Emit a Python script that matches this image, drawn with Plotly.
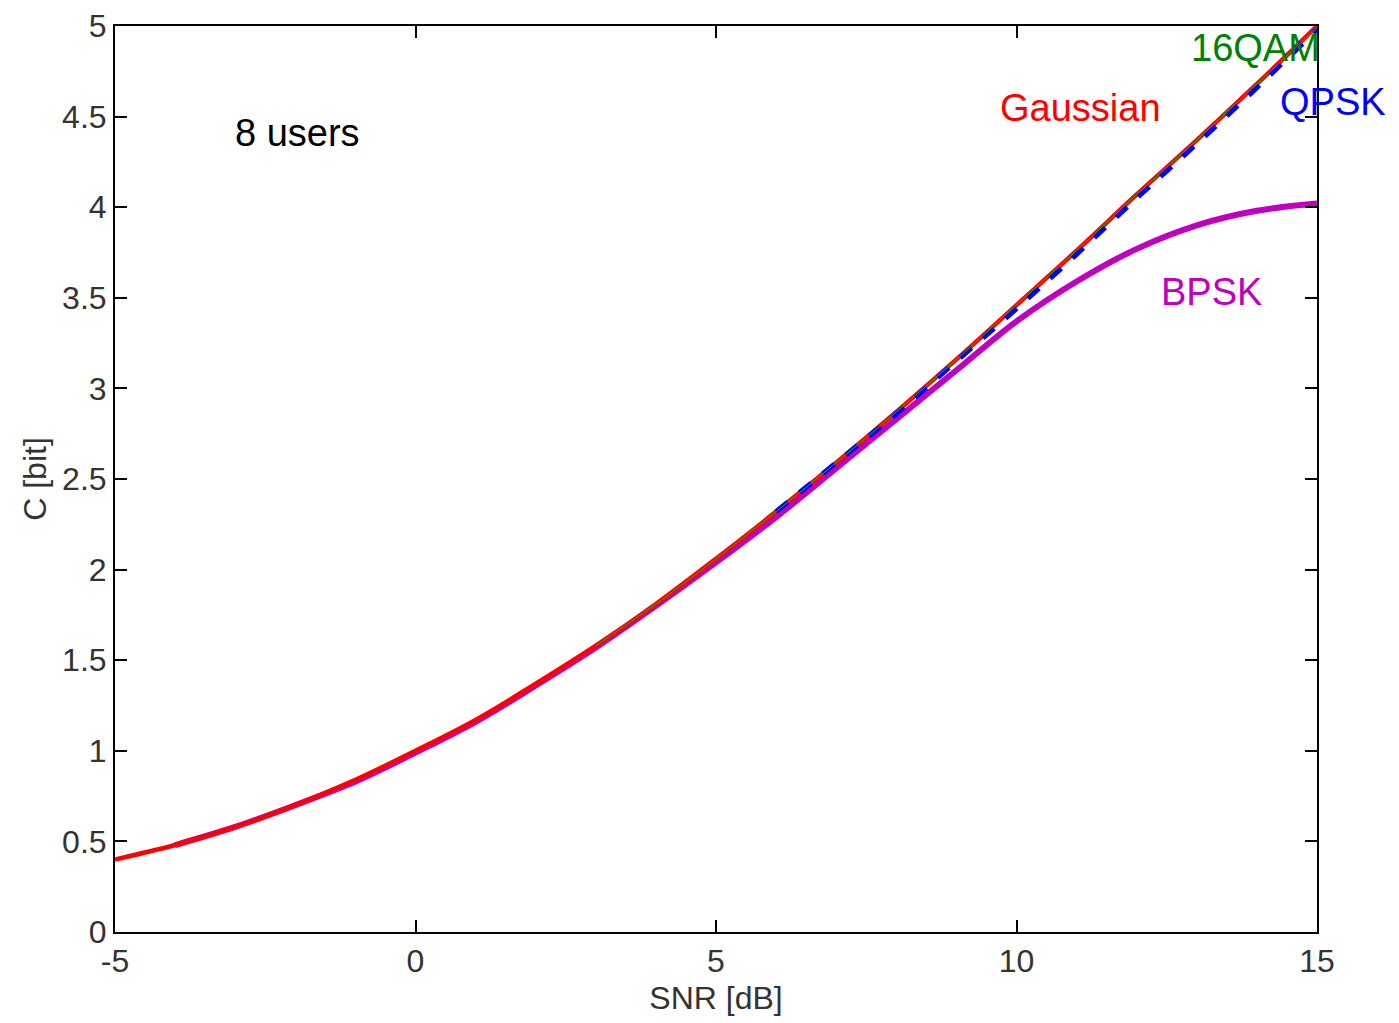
import plotly.graph_objects as go

snr_gauss = [-5, -4, -3, -2, -1, 0, 1, 2, 3, 4, 5, 6, 7, 8, 9, 10, 11, 12, 13, 14, 15]
c_gauss = [0.40, 0.48, 0.58, 0.70, 0.84, 1.00, 1.17, 1.37, 1.58, 1.81, 2.06, 2.32, 2.59, 2.87, 3.16, 3.46, 3.76, 4.07, 4.37, 4.68, 5.00]

snr_bpsk = [-4, -3, -2, -1, 0, 1, 2, 3, 4, 5, 6, 7, 8, 9, 10, 11, 12, 13, 14, 15]
c_bpsk = [0.48, 0.58, 0.70, 0.83, 0.99, 1.16, 1.36, 1.57, 1.80, 2.04, 2.29, 2.56, 2.83, 3.10, 3.37, 3.59, 3.77, 3.90, 3.98, 4.02]

snr_16qam = [3, 4, 5, 6, 7, 8, 9, 10, 11, 12, 13, 14, 15]
c_16qam = [1.58, 1.81, 2.06, 2.32, 2.59, 2.87, 3.16, 3.46, 3.76, 4.07, 4.37, 4.68, 4.99]

snr_qpsk = [6, 7, 8, 9, 10, 11, 12, 13, 14, 15]
c_qpsk = [2.32, 2.59, 2.86, 3.15, 3.44, 3.74, 4.05, 4.35, 4.66, 4.98]

FONT = "Liberation Sans, Arial, sans-serif"

fig = go.Figure()
fig.add_trace(go.Scatter(x=snr_bpsk, y=c_bpsk, mode="lines", line=dict(color="#BF00BF", width=6, shape="spline"), name="BPSK"))
fig.add_trace(go.Scatter(x=snr_gauss, y=c_gauss, mode="lines", line=dict(color="#FF0000", width=4.5, shape="spline"), name="Gaussian"))
fig.add_trace(go.Scatter(x=snr_qpsk, y=c_qpsk, mode="lines", line=dict(color="#0000FF", width=5, dash="dash", shape="spline"), name="QPSK"))
fig.add_trace(go.Scatter(x=snr_16qam, y=c_16qam, mode="lines", line=dict(color="#00C000", width=1, shape="spline"), name="16QAM"))

annos = [
    dict(x=-1.97, y=4.41, text="8 users", color="black"),
    dict(x=11.06, y=4.55, text="Gaussian", color="#FF0000"),
    dict(x=13.97, y=4.88, text="16QAM", color="#008000"),
    dict(x=13.25, y=3.53, text="BPSK", color="#BF00BF"),
]
for a in annos:
    fig.add_annotation(x=a["x"], y=a["y"], text=a["text"], showarrow=False,
                       font=dict(family=FONT, size=38, color=a["color"]),
                       xanchor="center", yanchor="middle")
# QPSK label sits just outside the right edge of the axes
fig.add_annotation(x=1.013, xref="paper", y=4.58, yref="y", text="QPSK", showarrow=False,
                   font=dict(family=FONT, size=38, color="#0000FF"),
                   xanchor="center", yanchor="middle")

axis_common = dict(showline=True, linecolor="black", linewidth=2, mirror="ticks",
                   ticks="inside", ticklen=12, tickwidth=1.5, tickcolor="black",
                   showgrid=False, zeroline=False, ticklabeloverflow="allow", automargin=False,
                   tickfont=dict(family=FONT, size=32, color="#333"))

fig.update_xaxes(range=[-5, 15], tickvals=[-5, 0, 5, 10, 15], ticktext=["-5", "0", "5", "10", "15"],
                 title=dict(text="SNR [dB]", font=dict(family=FONT, size=32, color="#333"), standoff=8),
                 **axis_common)
fig.update_yaxes(range=[0, 5], tickvals=[0, 0.5, 1, 1.5, 2, 2.5, 3, 3.5, 4, 4.5, 5],
                 ticktext=["0", "0.5", "1", "1.5", "2", "2.5", "3", "3.5", "4", "4.5", "5"],
                 title=dict(text="C [bit]", font=dict(family=FONT, size=32, color="#333"), standoff=6),
                 **axis_common)

fig.update_layout(width=1399, height=1023, showlegend=False,
                  plot_bgcolor="white", paper_bgcolor="white",
                  margin=dict(l=107, r=90, t=18, b=99))

fig.write_html("out.html")
